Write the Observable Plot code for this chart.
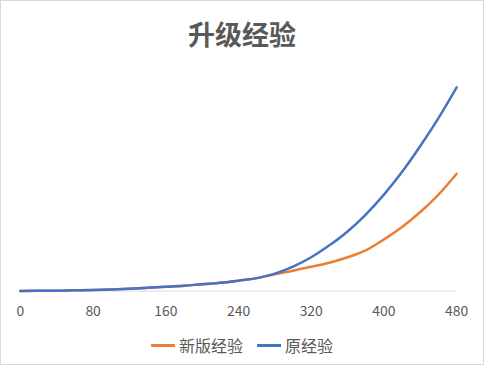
<!DOCTYPE html>
<html>
<head>
<meta charset="utf-8">
<script src="https://cdn.jsdelivr.net/npm/d3@7"></script>
<script src="https://cdn.jsdelivr.net/npm/@observablehq/plot@0.6"></script>
<style>
  html, body { margin: 0; padding: 0; background: #fff; }
  #frame { position: relative; width: 482px; height: 363px; border: 1px solid #d9d9d9; background: #fff; overflow: hidden;
    font-family: "Noto Sans CJK SC", "Microsoft YaHei", sans-serif; color: #595959; }
  #title { position: absolute; left: 0; top: 13px; width: 482px; text-align: center; font-size: 27px; font-weight: bold; color: #595959; }
  #chart { position: absolute; left: -1px; top: 60px; }
  #legend { position: absolute; left: 0; top: 332px; width: 482px; display: flex; justify-content: center; align-items: center; font-size: 16px; color: #595959; }
  .item { display: flex; align-items: center; margin: 0 7px; }
  .sw { display: inline-block; width: 24px; height: 3px; margin-right: 4px; }
</style>
</head>
<body>
<div id="frame">
  <div id="title">升级经验</div>
  <div id="chart"></div>
  <div id="legend"></div>
</div>
<script>
// levels (x) and experience values (arbitrary units)
const levels = [0, 20, 40, 60, 80, 100, 120, 140, 160, 180, 200, 220, 240, 260, 280, 300, 320, 340, 360, 380, 400, 420, 440, 460, 480];
const newExp = [0, 0.2, 0.3, 0.8, 1.0, 1.5, 2.3, 3.3, 4.3, 5.3, 6.9, 8.3, 10.5, 13, 17, 20.5, 24.5, 28.5, 34, 41, 52, 64.5, 79.5, 97, 118];
const oldExp = [0, 0.2, 0.3, 0.8, 1.0, 1.5, 2.3, 3.3, 4.3, 5.3, 6.9, 8.3, 10.5, 13, 17.5, 24.5, 34, 46, 60, 77, 97, 120, 146, 174, 205];
const seriesNames = ["新版经验", "原经验"];
const seriesColors = ["#ED7D31", "#4472C4"];
const xTicks = [0, 80, 160, 240, 320, 400, 480];

const rows = [];
levels.forEach((lv, i) => {
  rows.push({level: lv, exp: newExp[i], series: seriesNames[0]});
});
levels.forEach((lv, i) => {
  rows.push({level: lv, exp: oldExp[i], series: seriesNames[1]});
});

const plot = Plot.plot({
  width: 486,
  height: 266,
  marginLeft: 20,
  marginRight: 27,
  marginTop: 10,
  marginBottom: 35,
  style: {fontFamily: "'Noto Sans CJK SC', 'Microsoft YaHei', sans-serif", fontSize: "14px", color: "#595959", background: "transparent"},
  x: {domain: [0, 480], ticks: xTicks, tickSize: 0, tickPadding: 15, label: null},
  y: {domain: [0, 221], axis: null},
  color: {domain: seriesNames, range: seriesColors},
  marks: [
    Plot.ruleY([0], {stroke: "#d9d9d9", strokeWidth: 1}),
    Plot.line(rows, {x: "level", y: "exp", z: "series", stroke: "series", strokeWidth: 2.5, curve: "monotone-x"})
  ]
});
document.getElementById("chart").appendChild(plot);

const legend = document.getElementById("legend");
seriesNames.forEach((name, i) => {
  const item = document.createElement("div");
  item.className = "item";
  const sw = document.createElement("span");
  sw.className = "sw";
  sw.style.background = seriesColors[i];
  item.appendChild(sw);
  item.appendChild(document.createTextNode(name));
  legend.appendChild(item);
});
</script>
</body>
</html>
